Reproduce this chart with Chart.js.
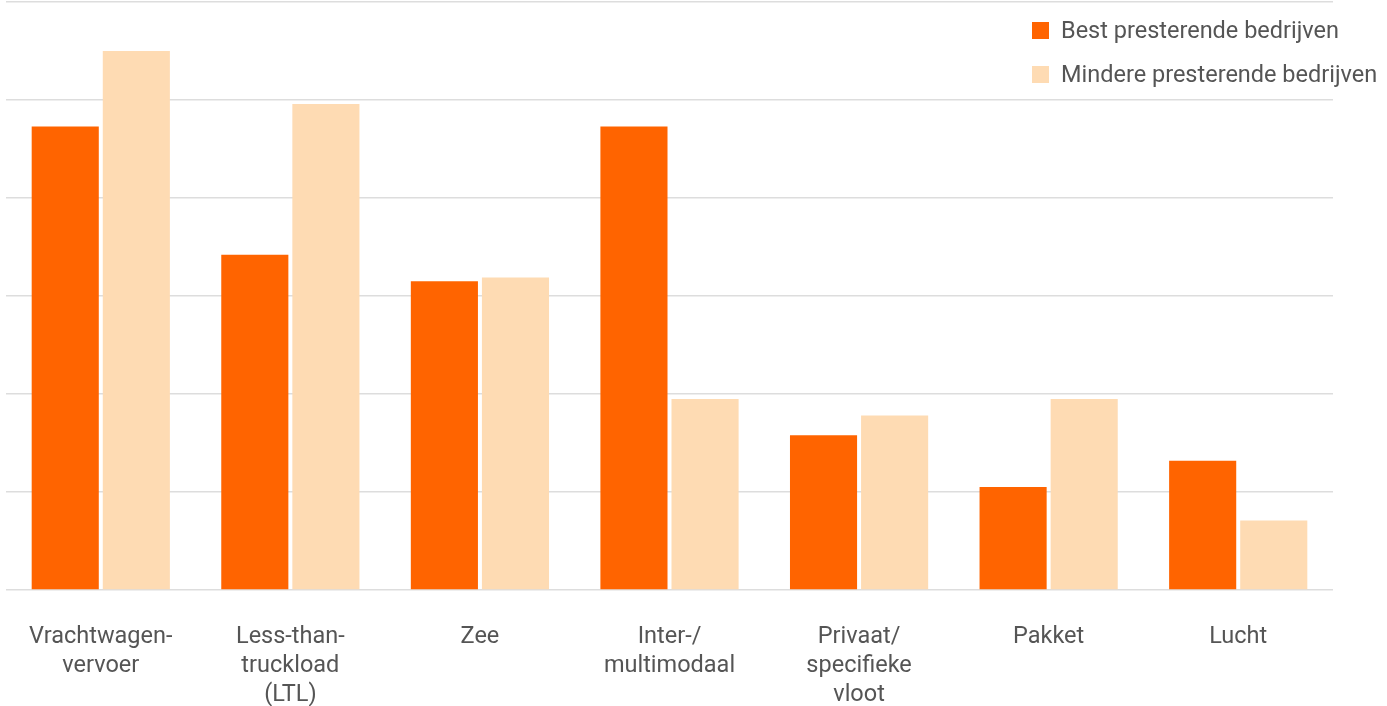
<!DOCTYPE html>
<html>
<head>
<meta charset="utf-8">
<script src="https://cdn.jsdelivr.net/npm/chart.js@4/dist/chart.umd.min.js"></script>
<style>
  html, body { margin: 0; padding: 0; background: #fff; }
  #wrap { position: relative; width: 1387px; height: 706px; }
  #legend { position: absolute; left: 1032px; top: 8px; font-family: Roboto, sans-serif; font-size: 23.5px; color: #555; }
  #legend div { display: flex; align-items: center; height: 44px; white-space: nowrap; }
  #legend span.box { display: inline-block; width: 17px; height: 17px; margin-right: 12px; }
</style>
</head>
<body>
<div id="wrap">
  <canvas id="chart" width="1387" height="706"></canvas>
  <div id="legend"></div>
</div>
<script>
// Categories and values
const labels = [
  ['Vrachtwagen-', 'vervoer'],
  ['Less-than-', 'truckload', '(LTL)'],
  'Zee',
  ['Inter-/', 'multimodaal'],
  ['Privaat/', 'specifieke', 'vloot'],
  'Pakket',
  'Lucht',
];
const bestData = [47.3, 34.2, 31.5, 47.3, 15.8, 10.5, 13.2];
const minderData = [55.0, 49.6, 31.9, 19.5, 17.8, 19.5, 7.1];

const colors = {
  best: '#FF6400',
  minder: '#FEDBB3',
};

const chart = new Chart(document.getElementById('chart'), {
  type: 'bar',
  data: {
    labels,
    datasets: [
      {
        label: 'Best presterende bedrijven',
        data: bestData,
        backgroundColor: colors.best,
      },
      {
        label: 'Mindere presterende bedrijven',
        data: minderData,
        backgroundColor: colors.minder,
      },
    ],
  },
  options: {
    responsive: false,
    animation: false,
    categoryPercentage: 0.75,
    barPercentage: 0.944,
    layout: {
      padding: { left: 6, right: 54, top: 2, bottom: 0 },
    },
    plugins: {
      legend: { display: false },
      tooltip: { enabled: false },
    },
    scales: {
      x: {
        grid: { display: false, drawTicks: false },
        border: { display: false },
        afterFit: (scale) => {
          scale.height = 116;
          scale.paddingLeft = 0;
          scale.paddingRight = 0;
        },
        ticks: {
          padding: 33,
          color: '#555',
          maxRotation: 0,
          autoSkip: false,
          font: { family: 'Roboto', size: 23.5, lineHeight: 1.234 },
        },
      },
      y: {
        min: 0,
        max: 60,
        ticks: { display: false, stepSize: 10 },
        border: { display: false },
        grid: { color: '#dddddd', lineWidth: 1.5, drawTicks: false },
      },
    },
  },
});

// Legend built from the chart's datasets
const legendEl = document.getElementById('legend');
chart.data.datasets.forEach((ds) => {
  const row = document.createElement('div');
  const box = document.createElement('span');
  box.className = 'box';
  box.style.background = ds.backgroundColor;
  row.appendChild(box);
  row.appendChild(document.createTextNode(ds.label));
  legendEl.appendChild(row);
});
</script>
</body>
</html>
